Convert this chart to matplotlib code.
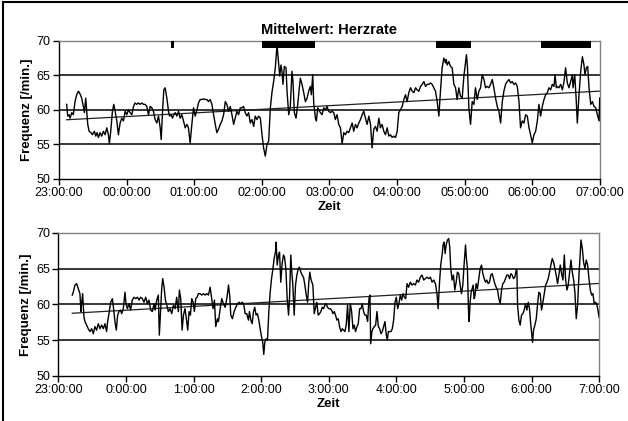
import numpy as np
import matplotlib
matplotlib.use("Agg")
import matplotlib.pyplot as plt
from matplotlib.lines import Line2D

plt.rcParams['font.family'] = ['Liberation Sans', 'DejaVu Sans']

# minutes after 23:00 and heart rate (upper chart)
t_top = [6.8, 7.7, 8.9, 9.8, 11.3, 12.7, 14.2, 15.7, 17.2, 18.7, 20.1, 21.6, 22.5, 23.7, 24.6, 25.5, 26.7, 28.4,
         29.6, 31.4, 32.6, 33.8, 35.0, 36.4, 37.9, 39.4, 40.9, 42.4, 43.8, 44.7, 45.9, 47.4, 48.6, 49.8, 51.3,
         52.7, 54.2, 55.7, 57.2, 58.7, 60.1, 61.6, 63.1, 64.6, 66.1, 67.5, 69.0, 70.5, 72.0, 73.5, 75.0, 76.4,
         77.9, 79.4, 80.9, 82.4, 83.8, 85.3, 86.8, 88.3, 89.8, 90.7, 91.9, 93.0, 94.2, 95.7, 97.2, 98.1, 99.6,
         100.7, 101.9, 103.1, 104.6, 106.1, 107.5, 109.0, 110.5, 112.0, 113.5, 114.9, 116.4, 117.9, 119.4, 120.9,
         122.4, 123.8, 125.3, 126.8, 128.3, 129.8, 131.3, 132.7, 134.2, 135.7, 137.2, 138.7, 140.1, 141.6, 143.1,
         144.6, 146.1, 147.6, 149.0, 150.5, 152.0, 153.5, 155.0, 156.4, 157.9, 159.4, 160.9, 162.4, 163.8, 165.3,
         166.8, 168.3, 169.8, 171.3, 172.8, 174.2, 175.7, 177.2, 178.7, 180.2, 181.6, 183.1, 184.6, 186.1, 187.6,
         189.0, 190.5, 192.0, 193.5, 195.0, 195.9, 197.0, 197.9, 198.8, 200.0, 201.5, 202.4, 203.9, 205.3, 206.8,
         207.7, 208.9, 210.4, 211.9, 213.0, 214.2, 215.7, 217.2, 218.7, 220.2, 221.6, 223.1, 224.0, 225.2, 226.1,
         227.6, 228.5, 229.6, 230.5, 232.0, 233.5, 235.0, 236.5, 237.9, 239.4, 240.9, 242.4, 243.9, 245.3, 246.8,
         248.3, 249.8, 251.3, 252.8, 254.2, 255.7, 257.2, 258.7, 260.2, 261.6, 263.1, 264.6, 266.1, 267.6, 269.1,
         270.5, 272.0, 273.5, 275.0, 276.5, 277.9, 279.4, 280.9, 282.4, 283.9, 285.3, 286.8, 288.3, 289.8, 291.3,
         292.8, 294.2, 295.7, 297.2, 298.7, 300.2, 301.6, 303.1, 304.6, 306.1, 307.6, 309.0, 310.5, 312.0, 313.5,
         315.0, 316.5, 317.9, 319.4, 320.9, 322.4, 323.9, 325.3, 326.8, 328.3, 329.8, 331.2, 332.7, 334.2, 335.7,
         337.2, 338.6, 340.1, 341.6, 343.1, 343.7, 344.6, 346.0, 347.5, 349.0, 350.5, 352.0, 353.4, 354.9, 356.4,
         357.9, 359.4, 360.9, 361.7, 362.6, 363.8, 365.3, 366.8, 368.3, 369.7, 371.2, 372.7, 374.2, 375.7, 377.2,
         378.6, 380.1, 381.6, 383.1, 384.6, 386.0, 387.5, 389.0, 390.5, 392.0, 393.5, 394.9, 396.4, 397.9, 399.4,
         400.9, 402.3, 403.8, 405.3, 406.8, 408.3, 409.7, 411.2, 412.7, 414.2, 415.7, 417.2, 418.6, 420.1, 421.6,
         423.1, 424.6, 426.0, 427.5, 429.0, 430.5, 432.0, 433.5, 434.9, 436.4, 437.9, 439.4, 440.3, 441.5, 442.3,
         443.8, 445.3, 446.8, 448.3, 449.7, 451.2, 452.7, 454.2, 455.7, 456.3, 457.8, 459.2, 460.1, 461.6, 463.1,
         464.6, 466.0, 466.9, 468.1, 469.3, 470.5, 472.0, 473.5, 474.9, 476.4, 477.9, 479.4, 480.0]
hr_top = [60.8, 59.1, 59.3, 58.8, 59.6, 59.3, 61.2, 62.2, 62.7, 62.3, 61.7, 60.5, 59.6, 61.7, 59.8, 57.9, 56.9, 56.7,
          56.4, 56.9, 56.2, 56.7, 56.0, 56.7, 56.2, 56.9, 56.4, 57.4, 56.4, 55.1, 56.9, 59.8, 60.8, 59.8, 58.4,
          56.4, 58.1, 58.8, 58.4, 59.8, 59.3, 60.0, 59.6, 59.3, 60.5, 61.0, 60.8, 61.0, 60.8, 61.0, 60.8, 60.8,
          60.5, 59.3, 60.5, 60.3, 59.8, 58.6, 58.1, 59.1, 57.4, 55.7, 59.8, 62.9, 63.2, 61.7, 59.8, 59.1, 59.3,
          58.8, 59.3, 59.6, 59.1, 59.8, 58.8, 59.3, 58.4, 57.4, 57.9, 57.4, 55.2, 57.9, 60.3, 59.1,
          60.0, 61.0, 61.5, 61.5, 61.6, 61.5, 61.5, 61.2, 61.5, 60.8, 59.3, 57.9, 56.7, 57.2, 57.9,
          58.4, 59.3, 61.2, 60.8, 59.8, 60.5, 59.3, 57.9, 58.8, 59.8, 59.3, 60.3, 60.3, 60.5, 59.6,
          59.1, 59.6, 58.1, 58.6, 57.6, 59.1, 58.6, 59.1, 58.8, 56.4, 54.5, 53.3, 55.0, 55.5, 60.3,
          62.5, 64.1, 66.1, 69.4, 66.5, 64.9, 66.5, 65.6, 63.7, 66.3, 66.1, 62.7, 59.3, 60.5, 65.6,
          64.1, 59.6, 58.8, 60.8, 62.7, 64.6, 63.7, 62.5, 61.2, 61.7, 62.7, 63.4, 62.2, 65.1, 61.0,
          58.8, 58.4, 60.3, 60.0, 59.6, 59.3, 60.3, 60.0, 60.5, 59.8, 59.6, 59.8, 59.6, 58.6, 59.3,
          57.9, 57.4, 55.1, 56.7, 56.4, 56.9, 56.7, 57.4, 58.1, 56.9, 57.9, 57.4, 58.1, 58.6, 59.3,
          59.8, 58.8, 57.9, 59.1, 57.9, 54.5, 57.2, 57.6, 56.9, 58.8, 57.4, 57.9, 56.9, 56.4, 57.4,
          56.2, 56.4, 56.0, 56.2, 56.0, 56.9, 59.6, 60.0, 60.5, 61.5, 62.2, 61.2, 62.5, 63.2, 62.7,
          62.5, 63.2, 62.9, 62.7, 63.4, 63.7, 64.1, 63.4, 63.7, 63.7, 63.9, 63.7, 63.2, 62.7, 61.2,
          59.1, 62.7, 66.1, 67.5, 66.8, 67.3, 66.5, 67.0, 66.3, 66.1, 63.7, 63.2, 61.5, 63.2, 62.0,
          61.7, 64.9, 67.0, 68.0, 66.1, 60.3, 57.9, 61.2, 60.8, 63.2, 61.5, 62.7, 63.2, 65.1, 64.4,
          63.2, 63.4, 63.2, 63.7, 64.4, 63.2, 61.7, 60.5, 59.8, 58.1, 61.2, 62.7, 63.7, 64.1, 64.4,
          63.9, 64.1, 63.7, 63.9, 63.4, 61.2, 57.4, 58.4, 58.1, 59.3, 59.1, 57.4, 56.4, 55.2, 56.4,
          56.9, 58.4, 60.8, 59.1, 60.5, 61.5, 62.2, 62.5, 63.2, 62.9, 63.7, 63.4, 65.1, 63.2, 63.4,
          63.2, 63.7, 62.9, 64.1, 66.1, 63.9, 63.2, 64.1, 65.1, 63.2, 65.1, 61.2, 58.1, 62.2, 65.6,
          67.7, 66.5, 65.1, 66.1, 66.3, 63.2, 60.8, 61.2, 60.5, 60.3, 59.3, 58.4, 61.7]

# minutes after 23:00 and heart rate (lower chart)
t_bot = [12.3, 13.2, 14.7, 16.2, 17.6, 19.1, 20.0, 20.6, 21.5, 22.7, 23.6, 25.0, 26.5, 28.0, 29.5, 31.0, 32.4, 33.9,
         35.4, 36.9, 38.4, 39.9, 41.3, 42.8, 43.7, 44.9, 46.4, 47.9, 49.0, 50.2, 51.4, 52.6, 53.8, 55.0, 56.2,
         57.6, 59.1, 60.0, 61.2, 62.7, 64.1, 65.6, 67.1, 68.6, 70.1, 71.6, 73.0, 74.5, 76.0, 77.5, 79.0, 80.4,
         81.9, 83.4, 84.9, 85.8, 87.3, 88.7, 89.6, 90.8, 91.7, 92.6, 93.8, 95.0, 96.2, 97.6, 99.1, 100.6, 102.1,
         103.6, 105.0, 106.5, 107.4, 108.6, 109.8, 111.0, 112.4, 113.9, 114.8, 116.0, 117.2, 118.4, 119.6, 120.7,
         121.9, 123.1, 124.3, 125.8, 127.3, 128.8, 130.2, 131.7, 133.2, 134.7, 136.1, 137.3, 138.5, 139.7, 141.2,
         142.1, 143.6, 145.0, 146.5, 148.0, 149.5, 151.0, 152.2, 153.0, 154.5, 156.0, 157.5, 159.0, 160.4, 161.9,
         163.4, 164.6, 165.8, 167.2, 168.7, 169.6, 170.8, 172.0, 173.2, 174.3, 175.5, 176.7, 177.9, 179.1, 180.3,
         181.4, 182.3, 183.2, 184.4, 185.6, 186.8, 188.0, 189.2, 190.3, 191.5, 192.7, 193.3, 194.2, 195.4, 196.3,
         197.4, 198.6, 199.8, 200.7, 201.9, 203.1, 204.3, 205.2, 206.3, 207.2, 208.1, 209.3, 210.5, 211.7, 212.9,
         214.0, 215.2, 216.4, 217.6, 218.8, 220.0, 221.2, 222.3, 223.2, 224.1, 225.0, 225.9, 227.1, 228.3, 229.4,
         230.6, 231.8, 233.0, 234.2, 235.4, 236.6, 237.7, 238.9, 240.1, 241.3, 242.5, 243.7, 244.9, 246.0, 247.2,
         248.4, 249.6, 250.8, 252.0, 253.2, 254.3, 255.5, 256.7, 257.9, 259.1, 260.3, 261.5, 262.6, 263.8, 265.0,
         266.2, 267.4, 268.6, 269.7, 270.9, 272.1, 273.3, 274.5, 275.7, 276.6, 277.2, 278.3, 279.2, 280.4, 281.6,
         282.8, 284.0, 285.2, 286.3, 287.5, 288.7, 289.9, 291.1, 292.0, 292.9, 294.0, 295.2, 296.4, 297.6, 298.8,
         300.0, 301.2, 302.3, 303.5, 304.7, 305.9, 307.1, 308.3, 309.5, 310.9, 312.4, 313.9, 315.4, 316.9, 318.3,
         319.8, 321.3, 322.8, 324.3, 325.7, 327.2, 328.7, 330.2, 331.7, 333.2, 334.7, 336.2, 337.1, 338.2, 339.4,
         340.6, 341.5, 342.4, 343.3, 344.2, 345.4, 346.5, 347.4, 348.3, 349.5, 350.7, 351.9, 353.1, 354.2, 355.4,
         356.6, 357.8, 359.0, 360.2, 361.4, 362.2, 363.1, 364.0, 364.6, 365.5, 366.4, 367.3, 368.2, 369.1, 369.9,
         370.8, 372.0, 373.2, 374.4, 375.6, 376.8, 378.0, 379.1, 380.3, 381.5, 382.7, 383.9, 385.1, 386.2, 387.4,
         388.6, 389.8, 391.0, 392.2, 393.4, 394.5, 395.7, 396.9, 398.1, 399.3, 400.5, 401.7, 402.8, 404.0, 405.2,
         406.4, 407.0, 407.6, 408.8, 409.9, 411.1, 412.3, 413.5, 414.7, 415.9, 417.1, 418.2, 419.1, 420.0, 420.9,
         421.8, 423.0, 424.2, 425.4, 426.5, 427.7, 428.9, 430.1, 431.3, 432.5, 433.7, 434.8, 436.0, 437.2, 438.4,
         439.6, 440.8, 441.9, 443.1, 444.3, 445.5, 446.7, 447.9, 449.1, 450.2, 451.4, 452.6, 453.8, 455.0, 456.2,
         457.4, 458.5, 459.7, 460.9, 462.1, 463.0, 463.9, 465.1, 466.2, 467.4, 468.6, 469.8, 471.0, 472.2, 473.4,
         474.5, 475.7, 476.9, 478.1, 479.3, 480.0]
hr_bot = [61.3, 61.7, 62.7, 62.9, 62.2, 61.5, 59.0, 60.1, 61.5, 58.2, 57.6, 57.1, 56.6, 56.2, 56.6, 55.9, 56.9, 56.4,
          57.3, 56.6, 57.1, 56.6, 57.3, 56.2, 57.6, 58.7, 60.3, 60.8, 59.4, 57.6, 56.4, 58.5, 59.0, 59.2, 58.7,
          59.4, 61.7, 60.1, 59.4, 60.1, 59.2, 60.6, 61.0, 60.8, 61.0, 60.6, 61.0, 60.8, 60.3, 61.0, 60.1, 60.6,
          59.2, 59.0, 60.1, 59.2, 60.6, 61.3, 55.7, 59.4, 62.2, 63.6, 62.4, 60.6, 59.9, 59.0, 59.4, 58.7, 59.9,
          59.4, 61.0, 59.0, 62.0, 60.8, 56.4, 58.5, 59.4, 57.6, 56.4, 59.0, 58.5, 60.8, 60.3, 59.0,
          60.8, 61.0, 61.5, 61.5, 61.3, 61.5, 61.3, 61.5, 61.3, 62.4, 60.8, 59.4, 60.6, 56.9, 58.0,
          57.6, 59.4, 60.8, 60.1, 59.6, 60.8, 62.7, 61.0, 58.5, 58.0, 59.0, 59.6, 60.1, 60.3, 60.1,
          60.3, 59.9, 58.7, 58.7, 57.8, 59.0, 57.8, 57.3, 59.0, 59.6, 58.5, 58.7, 57.8, 56.6, 55.5,
          54.7, 53.0, 54.7, 55.2, 55.0, 59.0, 61.7, 63.6, 64.8, 66.4, 67.3, 68.7, 65.5, 66.9, 67.3,
          63.1, 65.7, 66.9, 66.6, 65.0, 60.8, 58.5, 61.0, 66.9, 64.5, 62.7, 58.5, 62.7, 64.1, 65.0,
          65.2, 64.5, 64.1, 63.8, 62.7, 61.3, 60.3, 63.1, 64.5, 63.6, 63.1, 62.7, 58.7, 59.6, 60.3,
          58.5, 58.7, 59.0, 59.6, 59.4, 59.9, 60.1, 59.6, 59.4, 59.4, 59.2, 58.7, 59.0, 58.5, 57.8,
          58.0, 56.9, 56.2, 56.6, 56.4, 56.2, 57.1, 59.9, 56.2, 60.1, 59.0, 56.6, 57.1, 56.2, 56.9,
          57.3, 59.4, 59.4, 60.1, 59.0, 58.5, 58.5, 57.6, 60.8, 61.3, 54.5, 56.2, 56.6, 56.9, 57.1,
          59.0, 56.9, 56.6, 55.9, 56.2, 56.9, 57.6, 55.7, 55.0, 56.2, 56.2, 56.2, 56.6, 57.8, 60.3,
          61.0, 59.4, 60.1, 61.3, 60.6, 61.5, 61.0, 60.8, 62.9, 62.4, 63.1, 62.7, 62.9, 62.7, 63.4,
          63.1, 63.8, 64.1, 63.4, 63.6, 63.8, 63.6, 63.8, 63.1, 63.4, 62.9, 61.3, 59.4, 62.7, 65.5,
          66.9, 68.3, 68.7, 67.1, 68.3, 69.0, 69.2, 68.0, 65.0, 63.4, 64.1, 62.0, 63.1, 64.5, 64.3,
          62.7, 61.5, 62.7, 65.7, 68.3, 66.4, 65.0, 59.4, 57.6, 60.3, 61.7, 62.2, 62.7, 60.8, 61.3,
          62.9, 62.2, 63.6, 65.0, 65.5, 64.3, 63.6, 63.1, 63.4, 62.9, 63.1, 64.1, 64.3, 63.6, 62.9,
          62.4, 62.0, 60.8, 60.1, 62.0, 62.9, 63.1, 63.6, 64.1, 64.1, 63.6, 64.3, 64.1, 63.6, 63.8,
          64.8, 64.8, 59.9, 57.8, 57.1, 58.5, 58.7, 59.2, 60.1, 59.2, 60.3, 59.4, 57.6, 56.2, 54.7,
          56.4, 57.1, 58.0, 60.1, 61.7, 61.5, 59.2, 60.3, 61.5, 62.7, 63.1, 63.6, 64.5, 65.5, 66.4,
          65.9, 65.0, 64.1, 62.9, 64.1, 65.5, 64.3, 63.4, 66.9, 63.6, 62.0, 62.7, 64.5, 66.2, 64.5,
          63.4, 61.7, 58.0, 59.9, 64.1, 66.4, 69.0, 67.8, 65.9, 65.0, 66.2, 65.5, 63.6, 62.0, 61.3,
          61.5, 60.1, 60.3, 59.9, 58.9, 58.2]

# black marker bars at top of upper chart (minutes after 23:00)
bar_start = [99.5, 180, 335, 428]
bar_end = [102.5, 227, 366, 472]

xtick_pos = [0, 60, 120, 180, 240, 300, 360, 420, 480]
xlab_top = ['23:00:00', '00:00:00', '01:00:00', '02:00:00', '03:00:00', '04:00:00', '05:00:00', '06:00:00', '07:00:00']
xlab_bot = ['23:00:00', '0:00:00', '1:00:00', '2:00:00', '3:00:00', '4:00:00', '5:00:00', '6:00:00', '7:00:00']


def style_axes(ax, labels):
    ax.set_xlim(0, 480)
    ax.set_ylim(50, 70)
    ax.set_yticks([50, 55, 60, 65, 70])
    ax.set_xticks(xtick_pos)
    ax.set_xticklabels(labels)
    for y in [55, 60, 65]:
        ax.axhline(y, color='black', lw=1.1, zorder=1)
    ax.spines['top'].set_color('#808080')
    ax.spines['right'].set_color('#808080')
    ax.spines['left'].set_color('black')
    ax.spines['bottom'].set_color('black')
    for s in ax.spines.values():
        s.set_linewidth(1.0)
    ax.tick_params(direction='out', length=4, width=1, labelsize=9, pad=2)
    ax.set_xlabel('Zeit', fontsize=9.5, fontweight='bold', labelpad=1)
    ax.set_ylabel('Frequenz [/min.]', fontsize=9.5, fontweight='bold', labelpad=3)


fig = plt.figure(figsize=(6.28, 4.21), dpi=100)
ax1 = fig.add_axes([0.094, 0.575, 0.861, 0.328])
ax2 = fig.add_axes([0.093, 0.107, 0.861, 0.340])

for ax, t, hr, labs in [(ax1, t_top, hr_top, xlab_top), (ax2, t_bot, hr_bot, xlab_bot)]:
    style_axes(ax, labs)
    ax.plot(t, hr, color='black', lw=1.0, zorder=3)
    k, d = np.polyfit(t, hr, 1)
    tt = np.array([t[0], t[-1]])
    ax.plot(tt, k * tt + d, color='#202020', lw=0.9, zorder=2)

for s, e in zip(bar_start, bar_end):
    ax1.fill_between([s, e], 68.9, 70.0, color='black', lw=0, zorder=4)

ax1.set_title('Mittelwert: Herzrate', fontsize=10.5, fontweight='bold', pad=5)

# frame around the picture
fig.add_artist(Line2D([0.004, 0.004], [0.0, 0.996], color='black', lw=1.5, transform=fig.transFigure))
fig.add_artist(Line2D([0.004, 1.0], [0.996, 0.996], color='black', lw=1.5, transform=fig.transFigure))

fig.savefig('out.png', dpi=100)
